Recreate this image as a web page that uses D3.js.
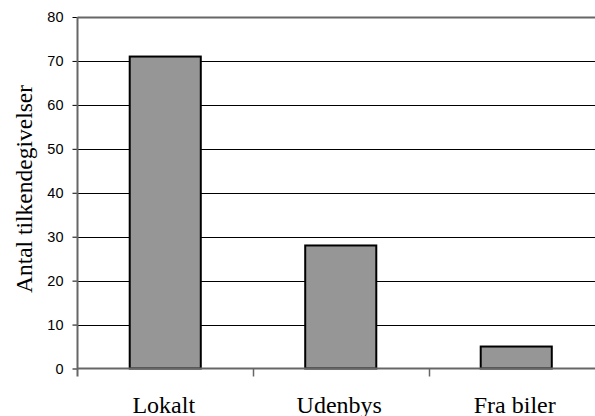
<!DOCTYPE html>
<html><head><meta charset="utf-8">
<script src="https://cdn.jsdelivr.net/npm/d3@7"></script>
<style>body{margin:0;background:#fff}svg{display:block}</style>
</head><body>
<svg id="c" width="595" height="416"></svg>
<script>
const categories = ["Lokalt", "Udenbys", "Fra biler"];
const values = [71, 28, 5];
const yTicks = [0, 10, 20, 30, 40, 50, 60, 70, 80];
const yTitle = "Antal tilkendegivelser";

(function () {
const svg = d3.select("#c");
const pL = 77.5, pR = 604, pT = 17, pB = 368.5;
const x = d3.scaleBand().domain(categories).range([pL, pR]).paddingInner(0.595).paddingOuter(0.2975);
const xb = d3.scaleBand().domain(categories).range([pL, pR]);
const y = d3.scaleLinear().domain([0, 80]).range([pB, pT]);

// gridlines
svg.append("g").selectAll("line").data(yTicks.filter(d => d > 0)).join("line")
  .attr("x1", pL).attr("x2", pR)
  .attr("y1", d => Math.round(y(d)) + 0.5).attr("y2", d => Math.round(y(d)) + 0.5)
  .attr("stroke", d => d === 80 ? "#666" : "#000")
  .attr("stroke-width", d => d === 80 ? 2 : 1);

// bars
svg.append("g").selectAll("rect").data(values).join("rect")
  .attr("x", (d, i) => x(categories[i]))
  .attr("width", x.bandwidth())
  .attr("y", d => y(d))
  .attr("height", d => y(0) - y(d))
  .attr("fill", "#969696").attr("stroke", "#000").attr("stroke-width", 2);

// y axis
const ya = svg.append("g").attr("transform", `translate(${pL},0)`)
  .call(d3.axisLeft(y).tickValues(yTicks).tickSize(5).tickPadding(9));
ya.select(".domain").remove();
ya.selectAll(".tick line").attr("stroke", "#000");
ya.selectAll(".tick text").attr("font-family", "Liberation Sans, Arial, sans-serif").attr("font-size", 14.5).attr("fill", "#000");
svg.append("line").attr("x1", pL).attr("x2", pL).attr("y1", pT).attr("y2", pB + 8)
  .attr("stroke", "#666").attr("stroke-width", 2);

// x axis
const xa = svg.append("g").attr("transform", `translate(0,${pB})`);
xa.append("line").attr("x1", pL).attr("x2", pR).attr("y1", 0).attr("y2", 0)
  .attr("stroke", "#666").attr("stroke-width", 2);
xa.selectAll(".tk").data(categories.slice(1)).join("line").attr("class", "tk")
  .attr("x1", d => Math.round(xb(d)) + 0.5).attr("x2", d => Math.round(xb(d)) + 0.5)
  .attr("y1", 0).attr("y2", 8).attr("stroke", "#666").attr("stroke-width", 1.5);
xa.selectAll("text").data(categories).join("text")
  .attr("x", d => xb(d) + xb.bandwidth() / 2 - 1.5)
  .attr("y", 44)
  .attr("text-anchor", "middle")
  .attr("font-family", "Liberation Serif, Times New Roman, serif").attr("font-size", 24)
  .text(d => d);

svg.append("text")
  .attr("transform", `translate(32,${(85 + 293) / 2}) rotate(-90)`)
  .attr("text-anchor", "middle")
  .attr("font-family", "Liberation Serif, Times New Roman, serif").attr("font-size", 23.5)
  .text(yTitle);
})();
</script>
</body></html>
